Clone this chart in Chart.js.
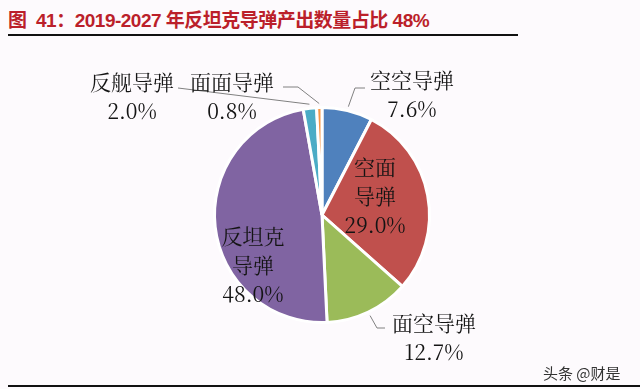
<!DOCTYPE html>
<html lang="zh-CN">
<head>
    <meta charset="UTF-8">
    <title>反坦克导弹产出数量占比</title>
    <style>
        html, body { margin: 0; padding: 0; }
        body { width: 640px; height: 389px; background: #fdfafd; position: relative; overflow: hidden; }
        .title {
            position: absolute; left: 8px; top: 5px;
            font: bold 19px "Liberation Sans", "Noto Sans CJK SC", sans-serif;
            color: #bb1f2a; white-space: pre; letter-spacing: -0.5px;
        }
        .rule-top { position: absolute; left: 8px; top: 34px; width: 510px; height: 2px; background: #111; }
        .rule-bottom { position: absolute; left: 8px; top: 385px; width: 632px; height: 2px; background: #111; }
        .mark {
            position: absolute; left: 543px; top: 362px;
            font: 15px "Noto Sans CJK SC", sans-serif; color: #333;
        }
        #chart { position: absolute; left: 0; top: 0; }
    </style>
</head>
<body>
    <div class="title">图  41：2019-2027 年反坦克导弹产出数量占比 48%</div>
    <div class="rule-top"></div>
    <canvas id="chart" width="640" height="389"></canvas>
    <div class="mark">头条 @财是</div>
    <div class="rule-bottom"></div>

    <script src="https://cdn.jsdelivr.net/npm/chart.js"></script>
    <script>
        // data
        const categories = ['空空导弹', '空面导弹', '面空导弹', '反坦克导弹', '反舰导弹', '面面导弹'];
        const shares = [7.6, 29.0, 12.7, 48.0, 2.0, 0.8];
        const sliceColors = ['#4f81bd', '#c0504d', '#9bbb59', '#8064a2', '#4bacc6', '#f79646'];

        // label placement, offsets from the pie centre
        const labelLayout = [
            { lines: ['空空导弹'], at: [90, -135], leader: [[33, -127], [43, -127]] },
            { lines: ['空面', '导弹'], at: [53, -48] },
            { lines: ['面空导弹'], at: [112, 108], leader: [[55, 113], [63, 113]] },
            { lines: ['反坦克', '导弹'], at: [-69, 21] },
            { lines: ['反舰导弹'], at: [-190, -133], leader: [[-144, -127]] },
            { lines: ['面面导弹'], at: [-90, -133], leader: [[-24, -128], [-39, -128]] }
        ];

        const sliceLabels = {
            id: 'sliceLabels',
            afterDatasetsDraw(chart) {
                const ctx = chart.ctx;
                const arcs = chart.getDatasetMeta(0).data;
                ctx.save();
                arcs.forEach((arc, i) => {
                    const p = arc.getProps(['x', 'y', 'startAngle', 'endAngle', 'outerRadius'], true);
                    const lay = labelLayout[i];
                    if (lay.leader) {
                        const mid = (p.startAngle + p.endAngle) / 2;
                        const r = p.outerRadius + 4;
                        ctx.beginPath();
                        ctx.strokeStyle = '#808080';
                        ctx.lineWidth = 1;
                        ctx.moveTo(p.x + Math.cos(mid) * r, p.y + Math.sin(mid) * r);
                        lay.leader.forEach(pt => ctx.lineTo(p.x + pt[0], p.y + pt[1]));
                        ctx.stroke();
                    }
                    const texts = lay.lines.concat([shares[i].toFixed(1) + '%']);
                    ctx.fillStyle = '#141414';
                    ctx.textAlign = 'center';
                    ctx.textBaseline = 'middle';
                    ctx.font = '21px "Noto Serif CJK SC", "Liberation Serif", "Noto Sans CJK SC", serif';
                    texts.forEach((t, k) => {
                        ctx.fillText(t, p.x + lay.at[0], p.y + lay.at[1] + k * 29);
                    });
                });
                ctx.restore();
            }
        };

        new Chart(document.getElementById('chart'), {
            type: 'pie',
            data: {
                labels: categories,
                datasets: [{
                    data: shares,
                    backgroundColor: sliceColors,
                    borderColor: '#ffffff',
                    borderWidth: 3
                }]
            },
            options: {
                responsive: false,
                animation: false,
                devicePixelRatio: 1,
                layout: { padding: { left: 213, right: 209, top: 106, bottom: 65 } },
                plugins: {
                    legend: { display: false },
                    tooltip: { enabled: false }
                }
            },
            plugins: [sliceLabels]
        });
    </script>
</body>
</html>
